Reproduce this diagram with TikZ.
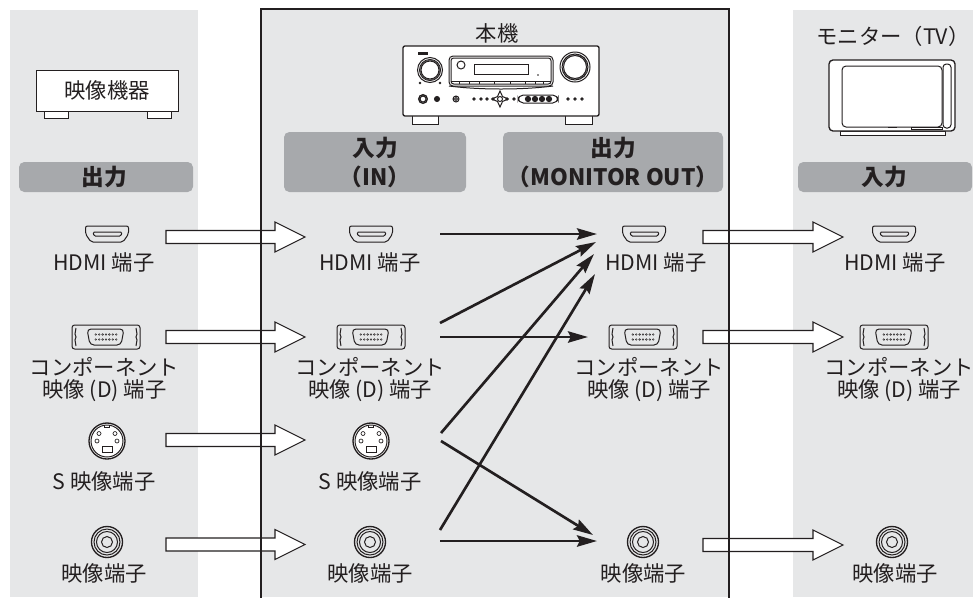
\documentclass[tikz,border=0pt]{standalone}
\usepackage{fontspec}
\setmainfont{Noto Sans CJK JP}
\usetikzlibrary{calc,arrows.meta}

\definecolor{ink}{HTML}{231F20}
\definecolor{panelgray}{HTML}{E6E7E8}
\definecolor{bargray}{HTML}{A7A9AC}

% connector symbols
\tikzset{
  hdmi/.pic={
    \draw[icon,rounded corners=1.5] (-21.5,-8) -- (21.5,-8) -- (21.5,0) -- (16,8) -- (-16,8) -- (-21.5,0) -- cycle;
    \draw[icon,rounded corners=1] (-14,-2) -- (15,-2) -- (14,2) -- (-13,2) -- cycle;
  },
  dterm/.pic={
    \draw[icon,rounded corners=2] (-34,-12) rectangle (34,12);
    \draw[icon] (-30,-9) -- (-31,-3) -- (-30,0) -- (-31,3) -- (-30,9);
    \draw[icon] (30,-9) -- (31,-3) -- (30,0) -- (31,3) -- (30,9);
    \draw[icon,rounded corners=3] (-19,-8) -- (18,-8) -- (15,8) -- (-16,8) -- cycle;
    \foreach \i in {-3,...,3} {
      \draw[ink,line width=0.3pt] (\i*3.4,-2.5) circle (0.9) (\i*3.4,2.5) circle (0.9);
    }
  },
  svideo/.pic={
    \draw[icon,line width=1pt,fill=white] (0,0) circle (18);
    \draw[icon] (0,0) circle (16);
    \draw[icon] (-2.5,-16) -- (-2.5,-13.5) -- (2.5,-13.5) -- (2.5,-16);
    \draw[icon,line width=0.5pt] (-8,-7.5) circle (2) (8,-7.5) circle (2)
      (-10,0) circle (2) (10,0) circle (2);
    \draw[icon] (-5,5) rectangle (5,11);
  },
  rca/.pic={
    \draw[icon,line width=1pt] (0,0) circle (15.5);
    \draw[icon] (0,0) circle (13) circle (10.5) circle (5.5);
  },
}

\begin{document}
\begin{tikzpicture}[x=0.75pt,y=-0.75pt,
  icon/.style={draw=ink,line width=0.75pt},
  devtext/.style={text=ink,font=\fontsize{16}{18}\selectfont,inner sep=0pt},
  headtext/.style={text=ink,font=\bfseries\fontsize{17}{21.75}\selectfont,align=center,inner sep=0pt},
  port/.style={text=ink,font=\fontsize{16}{16.5}\selectfont,align=center,inner sep=0pt},
  sig/.style={draw=ink,line width=2pt,-{Stealth[length=15pt,width=8.5pt,inset=2pt]}},
  hollow/.style={draw=ink,fill=white,line width=0.8pt,to path={
    ($(\tikztostart)+(0,-6.5)$) -- ($(\tikztotarget)+(-30,-6.5)$) -- ($(\tikztotarget)+(-30,-15)$)
    -- (\tikztotarget) -- ($(\tikztotarget)+(-30,15)$) -- ($(\tikztotarget)+(-30,6.5)$)
    -- ($(\tikztostart)+(0,6.5)$) -- cycle}}]
\newcommand\jack[3]{\coordinate (#1) at #2; \pic at (#1) {#3};}
\useasboundingbox (0,0) rectangle (973,597);

% panels
\fill[panelgray] (10,10) rectangle (198,597);
\fill[panelgray] (261,9) rectangle (729,597);
\fill[panelgray] (793,10) rectangle (973,597);

% header bars
\fill[bargray,rounded corners=4pt] (19,162) rectangle (193,192);
\fill[bargray,rounded corners=4pt] (284,132) rectangle (466,192);
\fill[bargray,rounded corners=4pt] (503,132) rectangle (723,192);
\fill[bargray,rounded corners=4pt] (798,162) rectangle (972,192);
\node[headtext] (srchead) at (104,177) {出力};
\node[headtext] (inhead) at (375,162) {入力\\（IN）};
\node[headtext] (outhead) at (613,162) {出力\\（MONITOR OUT）};
\node[headtext] (tvhead) at (884,177) {入力};

% source device
\draw[icon,fill=white] (44,111) rectangle (68,118);
\draw[icon,fill=white] (147,111) rectangle (171,118);
\draw[icon,fill=white] (36,70) rectangle (178,111);
\node[devtext] (src) at (107,90.5) {映像機器};

% receiver
\node[devtext] (unit) at (497,33) {本機};
\begin{scope}[icon]
\draw[fill=white] (412,115) rectangle (438,124);
\draw[fill=white] (565,115) rectangle (592,124);
\draw[fill=white,rounded corners=1.5,line width=1pt] (403,46) rectangle (599,116);
\draw (430,70) circle (12.5) circle (10.5) circle (9);
\fill[ink] (418,52) rectangle (428,55);
\fill[ink] (420,83) circle (1.3) (440,83) circle (1.3);
\draw[rounded corners=3] (449,56) rectangle (553,86);
\draw[rounded corners=2] (451,58) rectangle (551,84);
\draw (474,64) rectangle (528,74);
\draw (461,65) circle (4);
\fill[ink] (538,75) circle (0.8);
\draw (451,81) -- (551,81);
\foreach \x in {459,469,479,494,510,525,535,543} \draw (\x,81) -- (\x,84);
\draw (449,86) .. controls (480,90) and (522,90) .. (553,86);
\draw (575,67) circle (15) circle (13) circle (11.5);
\draw (423,99) circle (4.5) circle (3);
\draw[fill=ink] (437,99) circle (2.5);
\draw (456,99) circle (3) circle (1.5);
\foreach \x in {474,481,487,493,507,514,568,575,582} \draw (\x,99) circle (1.2);
\draw (500,91) -- (502.5,96.5) -- (508,99) -- (502.5,101.5) -- (500,107) -- (497.5,101.5)
  -- (492,99) -- (497.5,96.5) -- cycle;
\draw (500,99) circle (2.5);
\draw[rounded corners=4] (518,95) rectangle (558,103);
\foreach \x in {528,535,542,549} \draw[fill=ink] (\x,99) circle (2.6);
\end{scope}

% monitor
\node[devtext] (tv) at (893,36) {モニター（TV）};
\draw[icon,fill=white] (840,131) rectangle (945,135);
\draw[icon,fill=white,rounded corners=3,line width=1pt] (829,60) rectangle (955,131);
\draw[icon,rounded corners=3] (842,66) rectangle (942,127);
\draw[icon,rounded corners=2.5] (943,64) rectangle (951,128);
\draw[icon] (911,127) rectangle (942,129.5);
\draw[icon] (888,127.5) -- (897,127.5);

% source outputs
\jack{lh}{(107,234)}{hdmi}
\jack{lc}{(106,337)}{dterm}
\jack{ls}{(107,441)}{svideo}
\jack{lv}{(107,542)}{rca}
\node[port] (lhT) at (104,262) {HDMI 端子};
\node[port] (lcT) at (104.5,380) {コンポーネント\\映像 (D) 端子};
\node[port] (lsT) at (104,481) {S 映像端子};
\node[port] (lvT) at (104,573) {映像端子};

% receiver inputs
\jack{ih}{(371,234)}{hdmi}
\jack{ic}{(371,337)}{dterm}
\jack{is}{(371,441)}{svideo}
\jack{iv}{(370,542)}{rca}
\node[port] (ihT) at (370,262) {HDMI 端子};
\node[port] (icT) at (370,380) {コンポーネント\\映像 (D) 端子};
\node[port] (isT) at (370,481) {S 映像端子};
\node[port] (ivT) at (370,573) {映像端子};

% receiver outputs
\jack{oh}{(644,234)}{hdmi}
\jack{oc}{(643,337)}{dterm}
\jack{ov}{(643,542)}{rca}
\node[port] (ohT) at (656,262) {HDMI 端子};
\node[port] (ocT) at (649,380) {コンポーネント\\映像 (D) 端子};
\node[port] (ovT) at (643.5,573) {映像端子};

% monitor inputs
\jack{rh}{(894,234)}{hdmi}
\jack{rc}{(894,337)}{dterm}
\jack{rv}{(892,542)}{rca}
\node[port] (rhT) at (895,262) {HDMI 端子};
\node[port] (rcT) at (899,380) {コンポーネント\\映像 (D) 端子};
\node[port] (rvT) at (895,573) {映像端子};

% cables
\draw[hollow] ($(lh)+(59,3)$) to ($(ih)+(-66,3)$);
\draw[hollow] ($(lc)+(60,0)$) to ($(ic)+(-66,0)$);
\draw[hollow] ($(ls)+(59,-1)$) to ($(is)+(-66,-1)$);
\draw[hollow] ($(lv)+(59,2.5)$) to ($(iv)+(-65,2.5)$);
\draw[hollow] ($(oh)+(59,3)$) to ($(rh)+(-51,3)$);
\draw[hollow] ($(oc)+(60,0)$) to ($(rc)+(-51,0)$);
\draw[hollow] ($(ov)+(60,3)$) to ($(rv)+(-49,3)$);

% conversion inside the receiver
\draw[sig] ($(ih)+(69,0)$) -- ($(oh)+(-47,0)$);
\draw[sig] ($(ic)+(69,-14)$) -- ($(oh)+(-48,8)$);
\draw[sig] ($(ic)+(69,0)$) -- ($(oc)+(-55,0)$);
\draw[sig] ($(is)+(70,-8)$) -- ($(oh)+(-50,20)$);
\draw[sig] ($(is)+(70,0)$) -- ($(ov)+(-50,-7)$);
\draw[sig] ($(iv)+(70,-12)$) -- ($(oh)+(-49,40)$);
\draw[sig] ($(iv)+(70,-1)$) -- ($(ov)+(-46,-1)$);

% receiver frame, open at the bottom
\draw[ink,line width=1.2pt] (261,599) -- (261,9) -- (729,9) -- (729,599);
\end{tikzpicture}
\end{document}
